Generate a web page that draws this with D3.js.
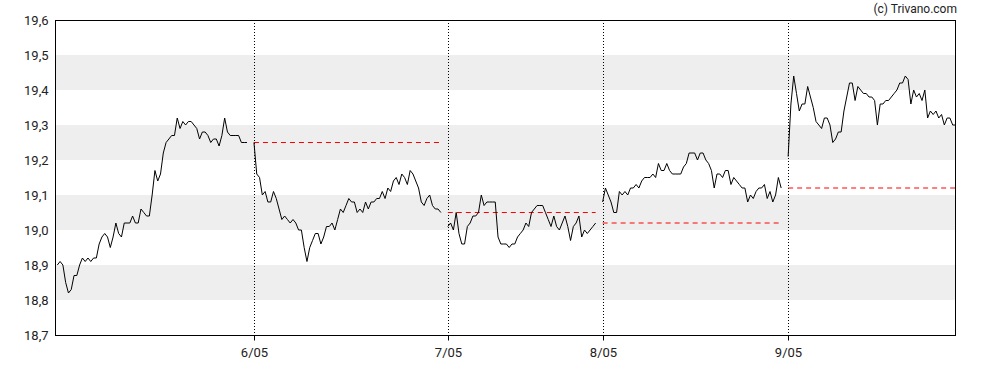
<!DOCTYPE html>
<html>
<head>
<meta charset="utf-8">
<script src="https://cdn.jsdelivr.net/npm/d3@7"></script>
<style>
  html, body { margin: 0; padding: 0; background: #fff; }
  svg { display: block; font-family: Roboto, "DejaVu Sans", sans-serif; }
</style>
</head>
<body>
<svg id="chart" width="988" height="370"></svg>
<script>
// ---------------- data ----------------
const dayLabels = ["5/05", "6/05", "7/05", "8/05", "9/05"];
const dayStartSlot = [0, 70.5, 140, 195.5, 262];
const refLevel = [null, 19.25, 19.05, 19.02, 19.12];

const day1 = [18.90,18.91,18.90,18.85,18.82,18.83,18.87,18.87,18.90,18.92,18.91,18.92,18.91,18.92,18.92,18.96,18.98,18.99,18.98,18.95,18.98,19.02,18.99,18.98,19.02,19.02,19.02,19.04,19.02,19.02,19.06,19.05,19.04,19.04,19.10,19.17,19.14,19.16,19.22,19.25,19.26,19.27,19.27,19.32,19.29,19.31,19.30,19.31,19.31,19.30,19.29,19.26,19.28,19.28,19.27,19.25,19.26,19.26,19.24,19.27,19.32,19.28,19.27,19.27,19.27,19.27,19.25,19.25,19.25];
const day2 = [19.25,19.16,19.15,19.10,19.11,19.08,19.08,19.11,19.09,19.06,19.03,19.04,19.03,19.02,19.03,19.02,19.00,19.00,18.95,18.91,18.95,18.97,18.99,18.99,18.96,18.98,19.01,19.01,19.02,19.00,19.03,19.06,19.05,19.07,19.09,19.08,19.08,19.05,19.06,19.05,19.08,19.06,19.08,19.08,19.09,19.09,19.11,19.09,19.12,19.11,19.14,19.15,19.13,19.16,19.15,19.13,19.17,19.16,19.14,19.12,19.08,19.07,19.09,19.10,19.07,19.06,19.06,19.05];
const day3 = [19.01,19.02,19.00,19.05,18.99,18.96,18.96,19.01,19.02,19.04,19.04,19.05,19.10,19.07,19.08,19.08,19.08,19.08,18.98,18.96,18.96,18.96,18.95,18.96,18.96,18.98,18.99,19.00,19.02,19.01,19.05,19.06,19.07,19.07,19.07,19.05,19.03,19.01,19.04,19.01,19.00,19.02,19.04,19.01,18.97,19.01,19.02,19.04,18.98,19.00,18.99,19.00,19.01,19.02];
const day4 = [19.08,19.12,19.10,19.08,19.05,19.05,19.11,19.10,19.11,19.10,19.12,19.12,19.13,19.12,19.14,19.15,19.15,19.15,19.16,19.15,19.19,19.17,19.17,19.19,19.17,19.16,19.16,19.16,19.16,19.18,19.19,19.22,19.22,19.22,19.20,19.22,19.22,19.20,19.19,19.17,19.12,19.16,19.16,19.15,19.17,19.17,19.13,19.15,19.14,19.13,19.12,19.12,19.08,19.10,19.09,19.11,19.12,19.12,19.13,19.09,19.11,19.08,19.10,19.15,19.12];
const day5 = [19.21,19.36,19.44,19.39,19.34,19.36,19.36,19.41,19.38,19.35,19.31,19.30,19.29,19.32,19.32,19.30,19.25,19.26,19.28,19.28,19.34,19.38,19.42,19.42,19.37,19.41,19.40,19.39,19.39,19.38,19.38,19.37,19.30,19.36,19.36,19.37,19.37,19.38,19.39,19.40,19.42,19.42,19.44,19.43,19.36,19.40,19.38,19.39,19.37,19.40,19.32,19.34,19.33,19.34,19.32,19.33,19.30,19.32,19.32,19.30,19.30];
const days = [day1, day2, day3, day4, day5];

const yTicks = [18.7, 18.8, 18.9, 19.0, 19.1, 19.2, 19.3, 19.4, 19.5, 19.6];
const bandRanges = [[18.8, 18.9], [19.0, 19.1], [19.2, 19.3], [19.4, 19.5]];
const credit = "(c) Trivano.com";

// ---------------- layout ----------------
const L = 55, R = 955, T = 20, B = 335;
const lastSlot = dayStartSlot[4] + day5.length - 1;

const svg = d3.select("#chart");
const x = d3.scaleLinear().domain([0, lastSlot]).range([57.3, 955.5]);
const y = d3.scaleLinear().domain([18.7, 19.6]).range([B, T]);

// bands
svg.append("g").selectAll("rect").data(bandRanges).join("rect")
  .attr("x", L).attr("width", R - L)
  .attr("y", d => y(d[1])).attr("height", d => y(d[0]) - y(d[1]))
  .attr("fill", "#eeeeee");

// day separators (dotted)
const sepX = s => Math.round(x(s)) + 0.5;
svg.append("g").selectAll("line").data(dayStartSlot.slice(1)).join("line")
  .attr("x1", sepX).attr("x2", sepX)
  .attr("y1", T).attr("y2", B)
  .attr("stroke", "#000").attr("stroke-width", 1)
  .attr("stroke-dasharray", "1,2");

// reference dashed lines
const refs = refLevel.map((v, i) => ({ v, i })).filter(d => d.v != null);
svg.append("g").selectAll("line").data(refs).join("line")
  .attr("x1", d => x(dayStartSlot[d.i]))
  .attr("x2", d => d.i === 4 ? R : x(dayStartSlot[d.i] + days[d.i].length - 1))
  .attr("y1", d => y(d.v)).attr("y2", d => y(d.v))
  .attr("stroke", "#ff0000").attr("stroke-width", 1)
  .attr("stroke-dasharray", "5,4");

// price lines (one per day)
const line = d3.line().x(d => x(d[0])).y(d => y(d[1]));
svg.append("g").selectAll("path").data(days.map((arr, i) => arr.map((v, j) => [dayStartSlot[i] + j, v])))
  .join("path")
  .attr("d", line)
  .attr("fill", "none")
  .attr("stroke", "#000")
  .attr("stroke-width", 1)
  .attr("stroke-linejoin", "round");

// frame
svg.append("rect")
  .attr("x", L + 0.5).attr("y", T + 0.5)
  .attr("width", R - L).attr("height", B - T)
  .attr("fill", "none").attr("stroke", "#000").attr("stroke-width", 1);

// y axis
const yAxis = d3.axisLeft(y).tickValues(yTicks).tickSize(0).tickPadding(7)
  .tickFormat(d => d3.format(".1f")(d).replace(".", ","));
const gy = svg.append("g").attr("transform", `translate(${L + 0.5},0)`).call(yAxis);
gy.select(".domain").remove();
gy.selectAll("text").attr("font-size", 13).attr("fill", "#222")
  .attr("font-family", "Roboto, sans-serif");

// x axis
const xTickSlots = dayStartSlot.slice(1);
const xTickLabels = dayLabels.slice(1);
const xAxis = d3.axisBottom(d3.scaleLinear().domain(x.domain()).range(x.range()))
  .tickValues(xTickSlots).tickSize(5).tickPadding(7)
  .tickFormat((d, i) => xTickLabels[i]);
const gx = svg.append("g").attr("transform", `translate(0,${B + 0.5})`).call(xAxis);
gx.select(".domain").remove();
gx.selectAll(".tick").attr("transform", d => `translate(${sepX(d)},0)`);
gx.selectAll("line").attr("stroke", "#000");
gx.selectAll("text").attr("font-size", 13).attr("fill", "#222")
  .attr("font-family", "Roboto, sans-serif");

// credit
svg.append("text")
  .attr("x", 957).attr("y", 12.5)
  .attr("text-anchor", "end")
  .attr("font-size", 12).attr("fill", "#222")
  .text(credit);
</script>
</body>
</html>
